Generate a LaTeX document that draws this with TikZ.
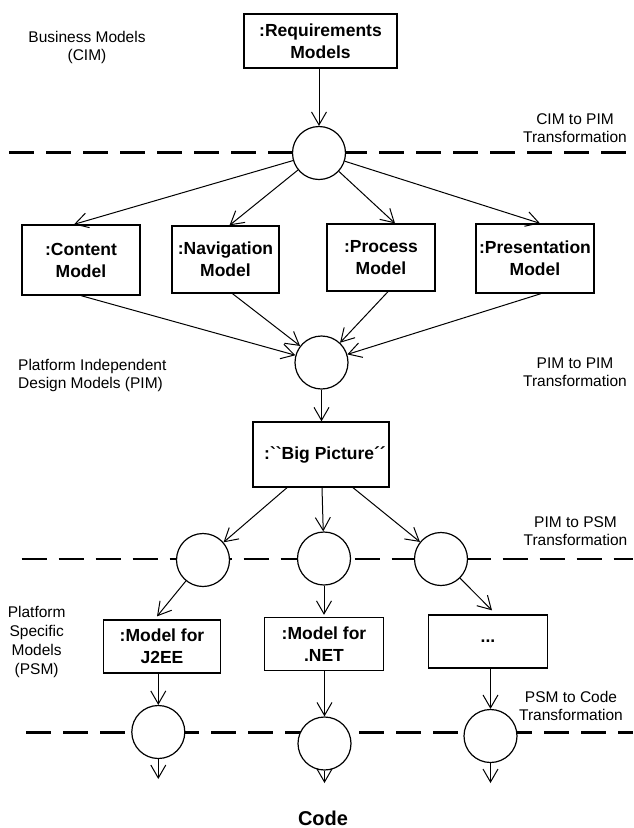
\documentclass[tikz,border=0pt]{standalone}
\usepackage{fontspec}
\setmainfont{Liberation Sans}[Ligatures=TeXOff]
\usetikzlibrary{arrows.meta,calc}
\begin{document}
\begin{tikzpicture}[x=1pt,y=-1pt,
  box/.style={draw,line width=1.3pt,rectangle,inner sep=0pt,align=center,font=\bfseries\fontsize{17.5}{22}\selectfont},
  trans/.style={draw,circle,fill=white,line width=1.2pt,minimum size=53pt,inner sep=0pt},
  arr/.style={line width=1pt,-{Straight Barb[length=13pt,width=15pt]}},
  sepline/.style={line width=2.8pt,dash pattern=on 25pt off 12pt},
  lbl/.style={font=\fontsize{15.5}{18}\selectfont,align=center,inner sep=0pt}]
\useasboundingbox (0,0) rectangle (633,828);

% separator lines
\draw[sepline] (9.3,152.7) -- (633,152.7);
\draw[sepline] (21.7,559) -- (633,559);
\draw[sepline] (26,732.3) -- (633,732.3);

% boxes
\node[box,minimum width=153pt,minimum height=54pt] (req) at (320.5,41) {:Requirements\\Models};
\node[box,minimum width=118pt,minimum height=70pt] (content) at (81,260) {:Content\\Model};
\node[box,minimum width=107pt,minimum height=67pt] (nav) at (225.5,259.5) {:Navigation\\Model};
\node[box,minimum width=108pt,minimum height=67pt] (proc) at (381,257.5) {:Process\\Model};
\node[box,minimum width=118pt,minimum height=69pt] (pres) at (535,258.5) {:Presentation\\Model};
\node[box,minimum width=136pt,minimum height=65pt] (bp) at (321,454.5) {\hspace*{8pt}:``Big Picture´´};
\node[box,minimum width=117pt,minimum height=53pt] (j2ee) at (162,646.5) {:Model for\\J2EE};
\node[box,minimum width=119pt,minimum height=53pt] (net) at (324,644) {:Model for\\.NET};
\node[box,minimum width=119pt,minimum height=53pt] (dots) at (488,641.5) {...};

% transformation circles
\node[trans] (c1) at (319,153) {};
\node[trans] (c2) at (321.5,362.5) {};
\node[trans] (p1) at (203,560) {};
\node[trans] (p2) at (324,558.5) {};
\node[trans] (p3) at (441,559) {};
\node[trans] (q1) at (158.3,732) {};
\node[trans] (q2) at (324.5,743.5) {};
\node[trans] (q3) at (490.5,736) {};

\coordinate (o1) at (158.3,779);
\coordinate (o2) at (324.5,783);
\coordinate (o3) at (490.5,783);

% connectors
\draw[arr] (c1 |- req.south) -- (c1);
\draw[arr] (c1) -- ($(content.north)+(-7,0)$);
\draw[arr] (c1) -- ($(nav.north)+(4,0)$);
\draw[arr] (c1) -- ($(proc.north)+(14,0)$);
\draw[arr] (c1) -- ($(pres.north)+(5,0)$);
\draw[arr] (content.south) -- (c2);
\draw[arr] ($(nav.south)+(7,0)$) -- (c2);
\draw[arr] ($(proc.south)+(7,0)$) -- (c2);
\draw[arr] ($(pres.south)+(6,0)$) -- (c2);
\draw[arr] (c2) -- (c2 |- bp.north);
\draw[arr] ($(bp.south)+(-34,0)$) -- (p1);
\draw[arr] ($(bp.south)+(1,0)$) -- (p2);
\draw[arr] ($(bp.south)+(32,0)$) -- (p3);
\draw[arr] (p1) -- ($(j2ee.north)+(-5,-3)$);
\draw[arr] (p2) -- ($(p2 |- net.north)+(0,-2)$);
\draw[arr] (p3) -- ($(dots.north)+(4,-4)$);
\draw[arr] (q1 |- j2ee.south) -- (q1);
\draw[arr] (q2 |- net.south) -- (q2);
\draw[arr] (q3 |- dots.south) -- (q3);
\draw[arr] (q1) -- (o1);
\draw[arr] (q2) -- (o2);
\draw[arr] (q3) -- (o3);

% labels
\node[lbl] (bm) at (87,47) {Business Models\\(CIM)};
\node[lbl] (t1) at (575,128.5) {CIM to PIM\\Transformation};
\node[lbl] (t2) at (575,372.5) {PIM to PIM\\Transformation};
\node[lbl] (t3) at (575.5,531.5) {PIM to PSM\\Transformation};
\node[lbl] (t4) at (571,706) {PSM to Code\\Transformation};
\node[lbl,align=left,anchor=west] (pim) at (18,375.5) {Platform Independent\\Design Models (PIM)};
\node[lbl,font=\fontsize{15.5}{19}\selectfont] (psm) at (36.7,642.4) {Platform\\Specific\\Models\\(PSM)};
\node[font=\bfseries\fontsize{20}{24}\selectfont,anchor=base,inner sep=0pt] (code) at (323,825) {Code};
\end{tikzpicture}
\end{document}
